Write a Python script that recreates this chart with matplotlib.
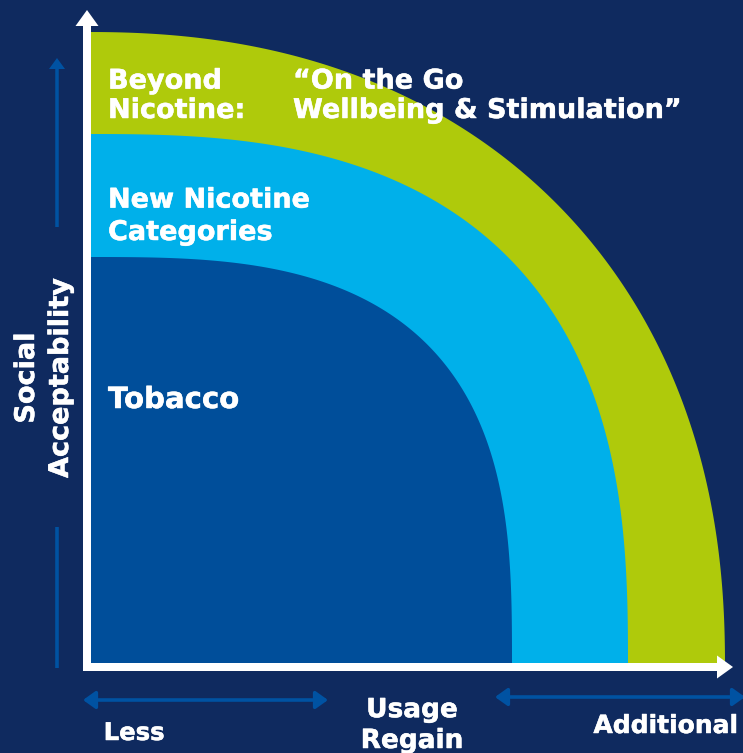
import numpy as np
import matplotlib
matplotlib.use("Agg")
import matplotlib.pyplot as plt
import matplotlib.patheffects as pe
from matplotlib.patches import Polygon, FancyArrow, FancyArrowPatch

# ---- data ----
band_labels = ["Beyond\nNicotine:", "New Nicotine\nCategories", "Tobacco"]
band_reach_usage = [638, 541, 425]      # extent along the usage axis
band_reach_social = [635, 533, 410]     # extent along the social-acceptability axis
band_roundness = [2.23, 2.7, 3.0]       # superellipse exponent of each band edge
band_colors = ["#AFCA0B", "#00B0EA", "#004E9A"]
tagline = "\u201cOn the Go\nWellbeing & Stimulation\u201d"
y_axis_label = "Social\nAcceptability"
x_axis_labels = ["Less", "Usage\nRegain", "Additional"]

BG = "#0F2A5F"
ARROW_BLUE = "#0052A2"
WHITE = "white"
FONT = "DejaVu Sans"
THICK = [pe.withStroke(linewidth=0.35, foreground=WHITE)]

fig = plt.figure(figsize=(7.43, 7.53), dpi=100, facecolor=BG)
ax = fig.add_axes([0, 0, 1, 1])
ax.set_facecolor(BG)
ox, oy = 87, 667          # pixel position of axis origin
ax.set_xlim(-ox, 743 - ox)
ax.set_ylim(-(753 - oy), oy)
ax.axis("off")

# ---- bands (outermost first) ----
t = np.linspace(0, np.pi / 2, 400)
for a, b, n, c in zip(band_reach_usage, band_reach_social, band_roundness, band_colors):
    xs = a * np.cos(t) ** (2.0 / n)
    ys = b * np.sin(t) ** (2.0 / n)
    pts = np.column_stack([np.r_[0, xs, 0], np.r_[0, ys, 0]])
    ax.add_patch(Polygon(pts, closed=True, facecolor=c, edgecolor="none", zorder=1))

# ---- main axes arrows ----
ax.add_patch(FancyArrow(-4, 0, 650, 0, width=8, head_width=23, head_length=16,
                        length_includes_head=True, color=WHITE, zorder=5, lw=0))
ax.add_patch(FancyArrow(0, -4, 0, 661, width=8, head_width=23, head_length=16,
                        length_includes_head=True, color=WHITE, zorder=5, lw=0))

# ---- secondary blue arrows ----
ax.add_patch(FancyArrow(-30, 667 - 227, 0, 227 - 58, width=3.5, head_width=16, head_length=11,
                        length_includes_head=True, color=ARROW_BLUE, lw=0, zorder=3))
ax.plot([-30, -30], [667 - 527, 667 - 668], color=ARROW_BLUE, lw=2.6, solid_capstyle="butt", zorder=3)

def double_arrow(x0, x1, y):
    ax.add_patch(FancyArrowPatch((x0, y), (x1, y), arrowstyle="<|-|>,head_length=7,head_width=5",
                                 mutation_scale=1.05, color=ARROW_BLUE, lw=2.6,
                                 shrinkA=0, shrinkB=0, zorder=3))

double_arrow(83 - ox, 328 - ox, oy - 700)
double_arrow(495 - ox, 745 - ox, oy - 697)

# ---- texts (va='baseline' anchors the last line's baseline) ----
def label(x, y, s, size, ls=1.2, **kw):
    ax.text(x, y, s, color=WHITE, fontsize=size, fontweight="bold", family=FONT,
            linespacing=ls, zorder=6, path_effects=THICK, **kw)

fs = 19.5
label(108 - ox, oy - 118, band_labels[0], fs, 1.17, va="baseline", ha="left")
label(293 - ox, oy - 118, tagline, fs, 1.17, va="baseline", ha="left")
label(108 - ox, oy - 240, band_labels[1], fs, 1.32, va="baseline", ha="left")
label(108 - ox, oy - 408, band_labels[2], 21, va="baseline", ha="left")

label(44 - ox, oy - 378, y_axis_label, 19.5, 1.4, va="center", ha="center", rotation=90)

label(134 - ox, oy - 740, x_axis_labels[0], 17.5, va="baseline", ha="center")
label(412 - ox, oy - 748, x_axis_labels[1], 19, 1.24, va="baseline", ha="center")
label(666 - ox, oy - 733, x_axis_labels[2], 18, va="baseline", ha="center")

fig.savefig("out.png", dpi=100, facecolor=BG)
